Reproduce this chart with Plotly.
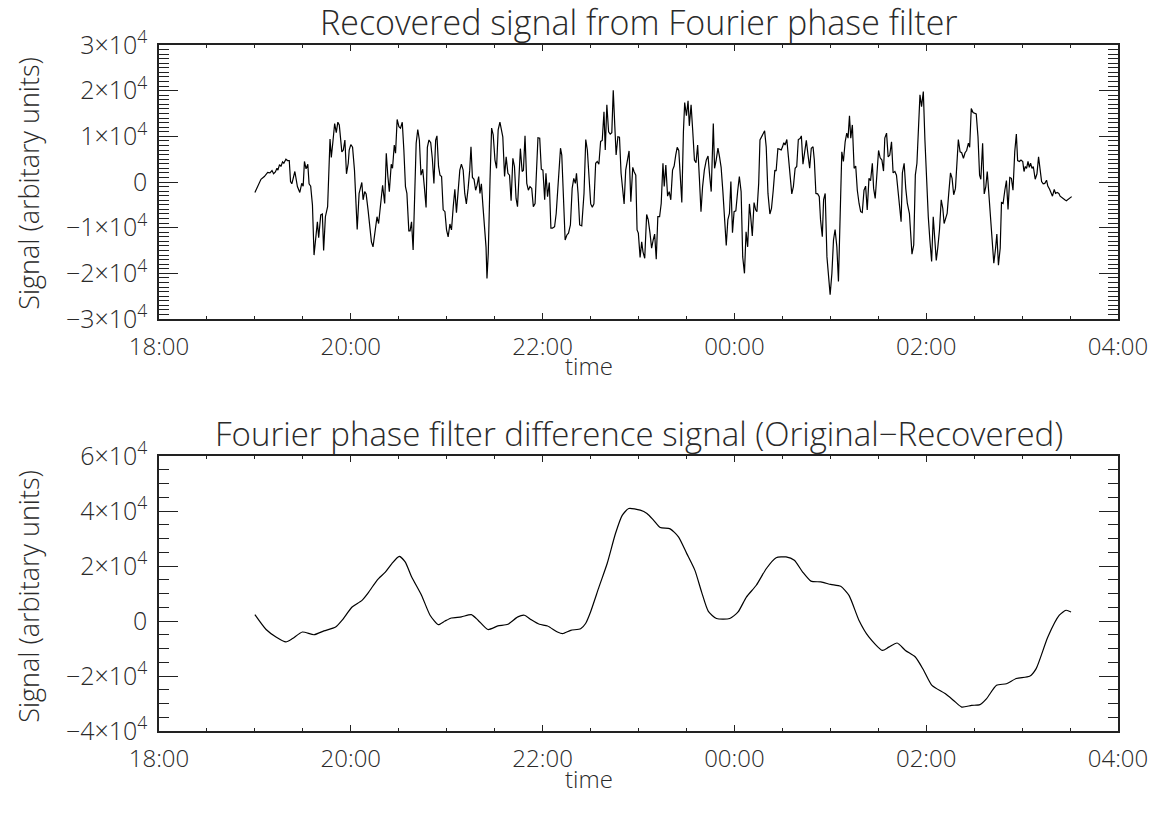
import pandas as pd
import plotly.graph_objects as go

# ---------------- DATA ----------------
# Recovered signal (top panel): minutes after 19:00 and signal values
rec_t1 = [0.0, 1.8, 3.8, 5.9, 8.0, 9.4, 10.7, 11.7, 12.8, 13.8, 14.4, 15.4, 16.3, 17.3, 18.1, 19.4, 20.4, 21.5, 22.3, 23.1,
          25.0, 26.6, 28.1, 29.3, 30.2, 31.0, 32.0, 33.1, 33.9, 34.9, 36.0, 37.0, 39.1, 39.9, 41.2, 42.2, 43.0, 44.1, 45.5, 47.0,
          47.8, 48.8, 49.9, 50.9, 51.9, 52.8, 53.6, 54.4, 55.3, 56.3, 57.3, 58.4, 59.0, 60.0, 61.1, 62.3, 64.0, 65.2, 66.9, 67.7,
          68.7, 69.6, 70.8, 72.9, 73.9, 74.9, 76.4, 77.4, 79.1, 79.9, 81.2, 82.2, 83.2, 84.1, 85.3, 86.1, 87.2, 88.0, 89.0, 90.1,
          91.1, 92.2, 93.2, 94.2, 95.1, 95.9, 96.3, 97.1, 98.0, 99.0, 99.8, 100.9, 101.9]
rec_v1 = [-2300, -1000, 600, 1200, 2100, 2000, 2500, 1800, 2200, 3000, 2600, 3800, 3400, 4400, 4100, 5000, 4700, 4700, 100, -400,
          2300, -1000, -2300, -300, -900, 4500, 2900, 3900, -400, -900, -5000, -16000, -8700, -12200, -7200, -7000, -15000, -7600, -5400, 9400,
          5400, 8800, 12800, 10800, 13100, 12500, 8500, 6600, 7000, 9200, 1800, 4100, 7000, 8200, 7600, 2600, -10400, -2500, -100, -3900,
          -2100, -2600, -6100, -13100, -14200, -11200, -7600, -9100, -3200, -700, -4700, 6300, 1200, -2100, 3900, 3000, 8100, 6300, 13700, 12100,
          11800, 13100, 7000, -1000, -2500, -7600, -10700, -10700, -8700, -14900, -4700, 8500, 11500]

rec_t2 = [102.9, 103.9, 105.0, 106.0, 107.1, 107.9, 108.9, 110.0, 111.0, 112.0, 113.1, 113.9, 114.9, 115.8, 116.8, 117.8, 118.9, 119.9, 120.9, 122.0,
          123.0, 124.1, 125.1, 126.1, 127.2, 128.2, 129.2, 130.3, 131.3, 132.3, 133.4, 134.4, 135.2, 136.1, 137.1, 138.1, 139.0, 140.0, 140.8, 141.7,
          142.7, 143.7, 144.6, 145.2, 146.0, 147.1, 148.1, 149.1, 150.2, 151.2, 152.2, 153.3, 154.1, 155.1, 156.2, 157.2, 158.3, 159.3, 160.3, 161.4,
          162.4, 163.4, 164.3, 165.1, 166.1, 167.2, 168.0, 169.0, 170.1, 171.1, 172.1, 173.2, 174.2, 175.3, 176.3, 177.1, 178.2, 179.2, 180.2, 181.3,
          182.1, 183.1, 184.2, 185.2, 186.2, 187.5, 188.5, 189.6, 190.6, 191.2, 192.0, 192.9, 194.1, 195.2, 196.2, 197.4, 198.5, 199.5, 200.5, 201.2,
          202.2, 203.2, 204.5]
rec_v2 = [9200, 1500, 2800, -1000, -5600, 7600, 9200, 8600, 5200, -300, 9200, 10100, 3400, 1500, 1200, -6100, -6500, -10500, -12000, -9200,
          -10500, -5400, -1600, -6700, -1000, 2600, 3900, 2600, -2500, -4800, -1400, 2600, 7700, 1000, 600, -1800, -700, 1200, -2500, -400,
          -5400, -9800, -14200, -21100, -15600, 400, 11800, 10300, 4800, 3000, 11400, 13100, 11800, 9900, 1200, 5500, 1900, 1500, -4100, 5200,
          3400, -3600, -5400, 1200, 7300, 2300, 2600, 10100, -300, -1800, -1000, -1400, -5400, -4700, 2600, 9700, 9600, 2800, 2600, -3900,
          1900, -3200, -100, -10100, -10100, -9800, -6900, -1000, 4800, 7400, 5900, -1000, -12700, -11600, -11200, -9400, -1400, 800, -300, 1900,
          -2500, -9400, -9600]

rec_t3 = [205.9, 207.0, 208.0, 209.0, 210.1, 211.1, 212.1, 213.2, 214.2, 215.2, 216.3, 217.3, 218.4, 219.2, 220.2, 221.3, 222.3, 223.3, 224.2, 225.2,
          226.0, 227.1, 228.1, 229.1, 230.0, 231.0, 232.0, 233.1, 234.1, 235.2, 236.4, 237.2, 238.3, 239.1, 239.9, 241.0, 242.0, 242.8, 243.9, 245.1,
          246.1, 247.2, 248.2, 249.2, 250.1, 251.1, 252.1, 253.2, 254.2, 255.3, 256.1, 257.1, 258.2, 259.2, 260.2, 261.3, 262.3, 263.3, 264.2, 265.2,
          266.2, 267.1, 268.1, 268.9, 270.0, 271.0, 271.8, 272.9, 273.9, 275.0, 276.0, 277.0, 278.1, 279.1, 280.1, 281.2, 282.4, 283.5, 284.5, 285.5,
          286.8, 287.6, 288.6, 289.7, 290.7, 291.7, 292.8, 293.8, 294.9, 295.9, 296.9, 297.8, 298.8, 299.8, 300.9, 302.1, 303.1, 304.2, 305.2, 306.3,
          307.3]
rec_v3 = [-2500, 9300, 7000, 1200, -4800, -5500, -4800, 4100, 4500, 3900, 8900, 9100, 15400, 7000, 16900, 11000, 10500, 10800, 20100, 12100,
          5900, 9900, 9800, 1900, -1400, -4800, 2600, 4800, 6800, -4300, 3200, 2300, 1500, -10500, -11200, -16500, -13100, -15300, -16700, -7100,
          -8300, -11200, -14500, -12700, -11400, -16900, -7600, -7600, -4700, 4100, -1000, 3700, -3100, -2100, -3900, 2600, 3500, 5900, 7600, 6900,
          1500, -4500, 11000, 17400, 14500, 17800, 12300, 16900, 11400, 4800, 4200, 8100, 800, -6500, -1000, 2600, 4800, 5700, 1500, -2100,
          12800, 3000, 4800, 7400, 5500, 3200, -2100, -7600, -13900, -8300, -6900, 100, -11100, -6500, -6300, -1800, 1200, -2100, -16400, -20000,
          -10900]

rec_t4 = [308.3, 309.4, 310.2, 311.2, 312.3, 313.3, 314.1, 315.2, 316.0, 317.2, 318.9, 319.9, 321.0, 322.2, 323.2, 324.3, 325.3, 326.1, 327.2, 328.2,
          329.3, 330.1, 330.9, 331.7, 332.8, 333.8, 334.8, 335.9, 336.9, 338.0, 339.0, 340.0, 341.1, 341.9, 342.9, 344.0, 345.0, 346.0, 347.1, 348.1,
          349.2, 350.0, 351.0, 352.1, 353.1, 353.9, 355.0, 355.8, 356.8, 357.9, 358.9, 359.9, 361.0, 362.0, 363.0, 364.1, 365.1, 366.2, 367.2, 368.2,
          369.3, 370.3, 371.1, 372.0, 372.8, 373.8, 374.9, 375.9, 376.9, 378.0, 379.0, 380.0, 381.1, 382.1, 383.1, 384.2, 385.2, 386.3, 387.1, 388.1,
          389.2, 390.2, 391.2, 392.3, 393.3, 394.1, 395.2, 396.2, 397.2, 398.3, 399.3, 400.4, 401.4, 402.4, 403.5, 404.3, 405.1, 406.2, 407.2, 408.2,
          409.5]
rec_v4 = [-14200, -4800, -7600, -11800, -4500, -6100, -6500, -300, 9200, 9900, 11200, 7700, -2500, -7000, -5800, -1800, 2600, 2400, 7300, 7200,
          7000, 7700, 8600, 8100, 9300, 5500, 800, -2600, -1000, 3000, 3400, 9300, 9500, 10100, 3900, 7000, 9100, 6100, 3000, 7400,
          7700, 4800, -2500, -2600, -3200, -8300, -12000, -3900, -2500, -16400, -20000, -24700, -20000, -12700, -10400, -14200, -21800, -6100, 6600, 4500,
          8800, 10700, 9600, 14500, 9600, 12500, 3000, 3500, -1800, -4700, -6500, -6700, -1800, -900, -6100, 800, 300, 4100, -1400, -3600,
          2600, 6900, 5300, 4800, 2400, 9600, 10700, 5500, 5900, 8800, 2000, 2300, 1500, -2500, -6100, -8700, 2000, 4100, -1400, -4700,
          -6900]

rec_t5 = [411.1, 412.2, 413.2, 414.2, 415.3, 416.1, 417.1, 418.2, 419.2, 420.2, 421.3, 422.3, 423.4, 424.4, 425.4, 426.3, 427.3, 428.3, 429.4, 430.4,
          431.2, 432.3, 433.1, 434.1, 435.2, 436.2, 437.2, 438.3, 439.3, 440.1, 441.2, 442.2, 443.3, 444.3, 445.3, 446.4, 447.2, 448.2, 449.3, 450.3,
          451.3, 452.4, 453.4, 454.2, 455.3, 456.3, 457.3, 458.2, 459.2, 460.2, 461.3, 462.3, 463.4, 464.2, 465.2, 466.3, 467.1, 468.1, 469.2, 470.2,
          471.2, 472.3, 473.3, 474.3, 475.4, 476.4, 477.2, 478.3, 479.3, 480.4, 481.2, 482.0, 482.8, 483.7, 484.5, 485.3, 486.2, 487.0, 488.2, 489.3,
          490.3, 491.3, 492.2, 493.2, 494.2, 495.3, 496.1, 497.2, 498.2, 499.0, 500.1, 500.9, 501.9, 503.0, 503.8, 504.8, 505.7, 506.7, 507.7, 508.6,
          509.8, 511.0]
rec_v5 = [-15800, -13800, 1500, 4100, 12100, 19100, 16500, 19800, 9200, -1000, -7600, -12700, -17400, -7600, -13400, -17200, -14200, -10500, -3900, -5800,
          -9100, -7600, -6900, -2500, 2000, 800, -2800, -1400, 3400, 9300, 6600, 6400, 5200, 6400, 6900, 8500, 7600, 16100, 15200, 15000,
          14900, 9900, 1500, 600, 8500, -2600, -1000, 2300, -2500, -8300, -13400, -17800, -14500, -11400, -18200, -14500, -4500, -4700, -1800, 300,
          -6000, 1000, 800, -1800, 6600, 10500, 4700, 4500, 4800, 4500, 2300, 3400, 3000, 4500, 3200, 4100, 3000, 3400, 600, 1800,
          5500, 3000, 100, -400, -300, 400, -900, -1600, -2500, -3100, -1600, -2500, -2300, -2500, -3100, -3400, -3800, -3900, -4100, -3900,
          -3600, -3200]

# Difference signal (bottom panel): minutes after 19:00 and values
diff_t = [0.0, 7.0, 13.2, 19.4, 23.5, 29.7, 37.0, 43.2, 50.5, 54.6, 60.8, 67.0, 71.2, 76.4, 81.6, 85.7, 90.3, 94.0, 98.1, 104.3,
          109.6, 114.7, 118.9, 123.0, 129.2, 135.4, 139.6, 145.8, 152.0, 158.3, 164.5, 168.6, 172.8, 178.0, 183.1, 189.3, 192.5, 197.6, 203.8, 206.9,
          210.0, 215.3, 220.4, 225.6, 229.8, 233.9, 241.1, 245.3, 249.5, 253.6, 259.8, 265.0, 270.2, 275.3, 279.5, 283.7, 288.8, 297.1, 302.3, 307.5,
          313.7, 319.9, 326.1, 332.3, 337.5, 342.7, 347.9, 354.1, 360.3, 366.5, 371.7, 377.9, 384.1, 392.5, 396.6, 401.8, 407.0, 413.2, 418.4, 423.6,
          431.8, 437.0, 442.2, 448.4, 453.6, 457.8, 464.0, 470.2, 476.4, 484.7, 488.8, 496.1, 503.3, 507.5, 510.6]
diff_v = [2300, -3100, -5800, -7600, -6400, -4000, -5000, -3600, -2200, 300, 5100, 7500, 10500, 14800, 17800, 20900, 23500, 21500, 16000, 9300,
          2100, -1300, 0, 1100, 1500, 2300, 300, -3100, -1800, -1200, 1500, 2100, 500, -1200, -1800, -4000, -4600, -3400, -2800, -900,
          3300, 12400, 20900, 31800, 38400, 40900, 40300, 39100, 36600, 34000, 33500, 30600, 24500, 18400, 10500, 3500, 900, 900, 3300, 8700,
          13000, 19000, 23000, 23300, 22100, 17800, 14500, 14200, 13300, 12600, 9300, 300, -5800, -10700, -9500, -8000, -10700, -13100, -17900, -23400,
          -26400, -28800, -31300, -30700, -30400, -28200, -23400, -22800, -20900, -20100, -17300, -5800, 2100, 3900, 3300]

top_ticks = [-30000, -20000, -10000, 0, 10000, 20000, 30000]
top_ticktext = ["\u22123\u00d710<sup>4</sup>", "\u22122\u00d710<sup>4</sup>", "\u22121\u00d710<sup>4</sup>", "0",
                "1\u00d710<sup>4</sup>", "2\u00d710<sup>4</sup>", "3\u00d710<sup>4</sup>"]
bot_ticks = [-40000, -20000, 0, 20000, 40000, 60000]
bot_ticktext = ["\u22124\u00d710<sup>4</sup>", "\u22122\u00d710<sup>4</sup>", "0",
                "2\u00d710<sup>4</sup>", "4\u00d710<sup>4</sup>", "6\u00d710<sup>4</sup>"]

title_top = "Recovered signal from Fourier phase filter"
title_bot = "Fourier phase filter difference signal (Original\u2212Recovered)"
ytitle = "Signal (arbitary units)"
xtitle = "time"

# ---------------- BUILD ----------------
BASE = pd.Timestamp("2024-01-01 19:00")


def to_time(mins):
    return [BASE + pd.Timedelta(minutes=m) for m in mins]


rec_t, rec_v = [], []
for tt, vv in [(rec_t1, rec_v1), (rec_t2, rec_v2), (rec_t3, rec_v3), (rec_t4, rec_v4), (rec_t5, rec_v5)]:
    n = min(len(tt), len(vv))
    rec_t += tt[:n]
    rec_v += vv[:n]

FONT = "Open Sans"
WEIGHT = 300
TXT = "#2a2a2a"
AX = "#222222"
xr = ["2024-01-01 18:00", "2024-01-02 04:00"]

fig = go.Figure()
fig.add_trace(go.Scatter(x=to_time(rec_t), y=rec_v, mode="lines",
                         line=dict(color="black", width=1.2), xaxis="x", yaxis="y", showlegend=False))
fig.add_trace(go.Scatter(x=to_time(diff_t), y=diff_v, mode="lines",
                         line=dict(color="black", width=1.2, shape="spline", smoothing=0.6),
                         xaxis="x2", yaxis="y2", showlegend=False))


def xaxis_cfg(anchor):
    return dict(anchor=anchor, domain=[0, 1], type="date", range=xr,
                tickmode="linear", tick0="2024-01-01 18:00", dtick=7200000, tickformat="%H:%M",
                ticks="inside", ticklen=6, tickwidth=1.2, tickcolor=AX,
                minor=dict(ticks="inside", ticklen=3, tickwidth=1, tickcolor=AX, dtick=1800000,
                           tick0="2024-01-01 18:00", showgrid=False),
                showline=True, linecolor=AX, linewidth=1.5, mirror="allticks",
                showgrid=False, zeroline=False,
                tickfont=dict(family=FONT, size=24, color=TXT, weight=WEIGHT), ticklabelstandoff=5)


def yaxis_cfg(anchor, dom, rng, vals, text, minor_dt):
    return dict(anchor=anchor, domain=dom, range=rng,
                tickmode="array", tickvals=vals, ticktext=text,
                ticks="inside", ticklen=19, tickwidth=1.2, tickcolor=AX,
                minor=dict(ticks="inside", ticklen=10, tickwidth=1, tickcolor=AX,
                           tickmode="linear", tick0=0, dtick=minor_dt, showgrid=False),
                showline=True, linecolor=AX, linewidth=1.5, mirror="allticks",
                showgrid=False, zeroline=False,
                tickfont=dict(family=FONT, size=25, color=TXT, weight=WEIGHT), ticklabelstandoff=5)


PH = 813 - 45 - 82
top_dom = [(731 - 319) / PH, 1.0]
bot_dom = [0.0, (731 - 456) / PH]

fig.update_layout(
    width=1160, height=813,
    margin=dict(l=159, r=36, t=45, b=82),
    paper_bgcolor="white", plot_bgcolor="white",
    xaxis=xaxis_cfg("y"),
    xaxis2=xaxis_cfg("y2"),
    yaxis=yaxis_cfg("x", top_dom, [-30000, 30000], top_ticks, top_ticktext, 1000),
    yaxis2=yaxis_cfg("x2", bot_dom, [-40000, 60000], bot_ticks, bot_ticktext, 5000),
)


def py(pix):
    return (731 - pix) / PH


def px(pix):
    return (pix - 159) / 965


def afont(size):
    return dict(family=FONT, color=TXT, size=size, weight=WEIGHT)


anns = [
    dict(text=title_top, x=0.5, y=py(22), font=afont(34)),
    dict(text=title_bot, x=0.5, y=py(433), font=afont(33)),
    dict(text=xtitle, x=px(592), y=py(365), font=afont(24)),
    dict(text=xtitle, x=px(592), y=py(778), font=afont(24)),
    dict(text=ytitle, x=px(27), y=py(183), textangle=-90, font=afont(27)),
    dict(text=ytitle, x=px(27), y=py(596), textangle=-90, font=afont(27)),
]
for a in anns:
    a.update(xref="paper", yref="paper", showarrow=False, xanchor="center", yanchor="middle")
fig.update_layout(annotations=anns)

fig.write_html("out.html", config={"displayModeBar": False},
               post_script="document.body.style.margin='0';document.body.style.padding='0';")
